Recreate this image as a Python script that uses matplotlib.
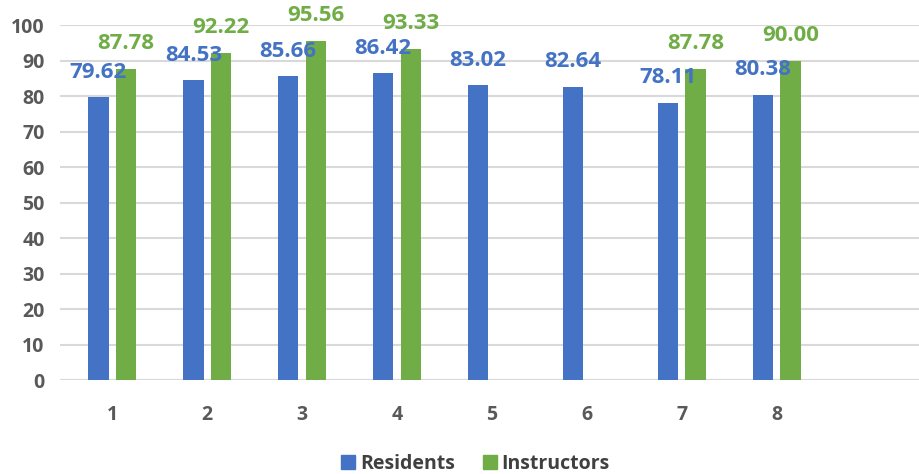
import numpy as np
import matplotlib
matplotlib.use('Agg')
import matplotlib.pyplot as plt
from matplotlib.lines import Line2D

categories = ['1', '2', '3', '4', '5', '6', '7', '8']
residents = [79.62, 84.53, 85.66, 86.42, 83.02, 82.64, 78.11, 80.38]
instructors = [87.78, 92.22, 95.56, 93.33, None, None, 87.78, 90.00]
series_names = ['Residents', 'Instructors']

BLUE = '#4472C4'
GREEN = '#70AD47'
GRID = '#D9D9D9'
TEXT = '#595959'

plt.rcParams['font.family'] = ['Open Sans', 'DejaVu Sans']

fig = plt.figure(figsize=(9.19, 4.74), dpi=100)
ax = fig.add_axes([0.0653, 0.198, 0.9347, 0.749])

x = np.arange(len(categories))
width = 0.215
offset = 0.145

res_bars = ax.bar(x - offset, residents, width, color=BLUE, zorder=2)
ins_x = [xi + offset for xi, v in zip(x, instructors) if v is not None]
ins_v = [v for v in instructors if v is not None]
ins_bars = ax.bar(ins_x, ins_v, width, color=GREEN, zorder=2)

# value labels above each bar
for bars, vals, col in [(res_bars, residents, BLUE), (ins_bars, ins_v, GREEN)]:
    for b, v in zip(bars, vals):
        ax.annotate(f'{v:.2f}', (b.get_x() + b.get_width() / 2, v),
                    xytext=(0, 18), textcoords='offset points',
                    ha='center', va='center', color=col,
                    fontsize=16, fontweight='bold', zorder=3)

# one empty slot on the right like the original
ax.set_xlim(-0.55, len(categories) + 0.5)
ax.set_ylim(0, 100)
ax.set_yticks(range(0, 101, 10))
ax.set_xticks(x)
ax.set_xticklabels(categories)

ax.yaxis.grid(True, color=GRID, linewidth=1.5, zorder=0)
ax.set_axisbelow(True)
for s in ax.spines.values():
    s.set_visible(False)
ax.axhline(0, color=GRID, linewidth=1.5, zorder=1)

ax.tick_params(axis='both', length=0, labelsize=14, labelcolor=TEXT)
ax.tick_params(axis='x', pad=18)
ax.tick_params(axis='y', pad=11)
for lbl in ax.get_xticklabels() + ax.get_yticklabels():
    lbl.set_fontweight('bold')

handles = [Line2D([], [], marker='s', linestyle='', markersize=10, color=c)
           for c in (BLUE, GREEN)]
leg = fig.legend(handles, series_names, loc='center', bbox_to_anchor=(0.516, 0.022),
                 ncol=2, frameon=False, fontsize=14, handletextpad=0.1,
                 columnspacing=1.3, handlelength=1.0)
for t in leg.get_texts():
    t.set_color('#404040')
    t.set_fontweight('bold')

fig.savefig('out.png', dpi=100)
